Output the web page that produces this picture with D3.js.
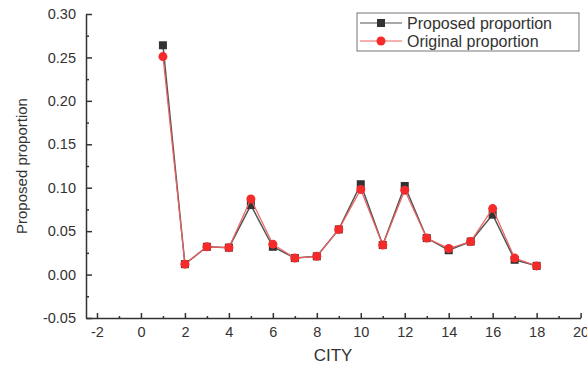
<!DOCTYPE html>
<html>
<head>
<meta charset="utf-8">
<script src="https://cdn.jsdelivr.net/npm/d3@7"></script>
<style>
  body { margin: 0; background: #fff; }
  text { font-family: "Liberation Sans", Arial, sans-serif; fill: #333; }
</style>
</head>
<body>
<div id="chart"></div>
<script>
// city index 1..18
const cities = d3.range(1, 19);
const proposed = [0.264, 0.012, 0.032, 0.031, 0.080, 0.032, 0.019, 0.021, 0.052,
                  0.104, 0.034, 0.102, 0.042, 0.028, 0.038, 0.069, 0.017, 0.010];
const original = [0.251, 0.012, 0.032, 0.031, 0.087, 0.035, 0.019, 0.021, 0.052,
                  0.098, 0.034, 0.097, 0.042, 0.030, 0.038, 0.076, 0.019, 0.010];
const xTicks = d3.range(-2, 21, 2);
const yTicks = [-0.05, 0, 0.05, 0.10, 0.15, 0.20, 0.25, 0.30];

const W = 587, H = 367;
const svg = d3.select('#chart').append('svg')
    .attr('width', W)
    .attr('height', H);

const x = d3.scaleLinear().domain([-2.5, 20]).range([86, 580.6]);
const y = d3.scaleLinear().domain([-0.05, 0.30]).range([318, 14]);

// plain hyphen instead of unicode minus
const fmtY = d => d3.format('.2f')(d).replace('\u2212', '-');
const fmtX = d => d3.format('d')(d).replace('\u2212', '-');

// y axis
svg.append('g')
    .attr('transform', `translate(${x(-2.5)},0)`)
    .call(d3.axisLeft(y).tickValues(yTicks).tickFormat(fmtY)
        .tickSizeInner(-6).tickSizeOuter(0).tickPadding(10));
svg.append('g')
    .attr('transform', `translate(${x(-2.5)},0)`)
    .call(d3.axisLeft(y).tickValues(d3.range(-0.025, 0.30, 0.05)).tickFormat('')
        .tickSizeInner(-3).tickSizeOuter(0))
    .select('.domain').remove();

// x axis
svg.append('g')
    .attr('transform', `translate(0,${y(-0.05)})`)
    .call(d3.axisBottom(x).tickValues(xTicks).tickFormat(fmtX)
        .tickSizeInner(-5).tickSizeOuter(0).tickPadding(9));
svg.append('g')
    .attr('transform', `translate(0,${y(-0.05)})`)
    .call(d3.axisBottom(x).tickValues(d3.range(-1, 20, 2)).tickFormat('')
        .tickSizeInner(-2).tickSizeOuter(0))
    .select('.domain').remove();

svg.selectAll('.domain, .tick line').attr('stroke', '#333').attr('stroke-width', 1.5);
svg.selectAll('.tick text').style('font-size', '14.5px').attr('fill', '#333');

// axis titles
svg.append('text')
    .attr('transform', `translate(27,${y(0.125)}) rotate(-90)`)
    .attr('text-anchor', 'middle')
    .style('font-size', '15px')
    .text('Proposed proportion');
svg.append('text')
    .attr('x', 333).attr('y', 361)
    .attr('text-anchor', 'middle')
    .style('font-size', '17px')
    .text('CITY');

const line = d3.line().x((d, i) => x(cities[i])).y(d => y(d));

// proposed: dark squares, gray line
svg.append('path')
    .datum(proposed)
    .attr('d', line)
    .attr('fill', 'none')
    .attr('stroke', '#555')
    .attr('stroke-width', 1.5);
svg.selectAll('rect.sq')
    .data(proposed)
    .enter()
    .append('rect')
    .attr('class', 'sq')
    .attr('x', (d, i) => x(cities[i]) - 4)
    .attr('y', d => y(d) - 4)
    .attr('width', 8)
    .attr('height', 8)
    .attr('fill', '#333');

// original: red circles, red line
svg.append('path')
    .datum(original)
    .attr('d', line)
    .attr('fill', 'none')
    .attr('stroke', '#f06060')
    .attr('stroke-width', 1.2);
svg.selectAll('circle.pt')
    .data(original)
    .enter()
    .append('circle')
    .attr('class', 'pt')
    .attr('cx', (d, i) => x(cities[i]))
    .attr('cy', d => y(d))
    .attr('r', 4.5)
    .attr('fill', '#f52a2a');

// legend
const lg = svg.append('g').attr('transform', 'translate(357,13)');
lg.append('rect')
    .attr('width', 222).attr('height', 38)
    .attr('fill', '#fff').attr('stroke', '#777').attr('stroke-width', 1);
const items = [
    { label: 'Proposed proportion', color: '#555', mark: 'sq' },
    { label: 'Original proportion', color: '#f06060', mark: 'ci' }
];
items.forEach((it, i) => {
    const cy = 10 + i * 18;
    lg.append('line')
        .attr('x1', 3).attr('x2', 45).attr('y1', cy).attr('y2', cy)
        .attr('stroke', it.color).attr('stroke-width', 1.2);
    if (it.mark === 'sq') {
        lg.append('rect').attr('x', 20).attr('y', cy - 4).attr('width', 8).attr('height', 8).attr('fill', '#333');
    } else {
        lg.append('circle').attr('cx', 24).attr('cy', cy).attr('r', 4.5).attr('fill', '#f52a2a');
    }
    lg.append('text')
        .attr('x', 50).attr('y', cy + 5.5)
        .style('font-size', '16px')
        .text(it.label);
});
</script>
</body>
</html>
